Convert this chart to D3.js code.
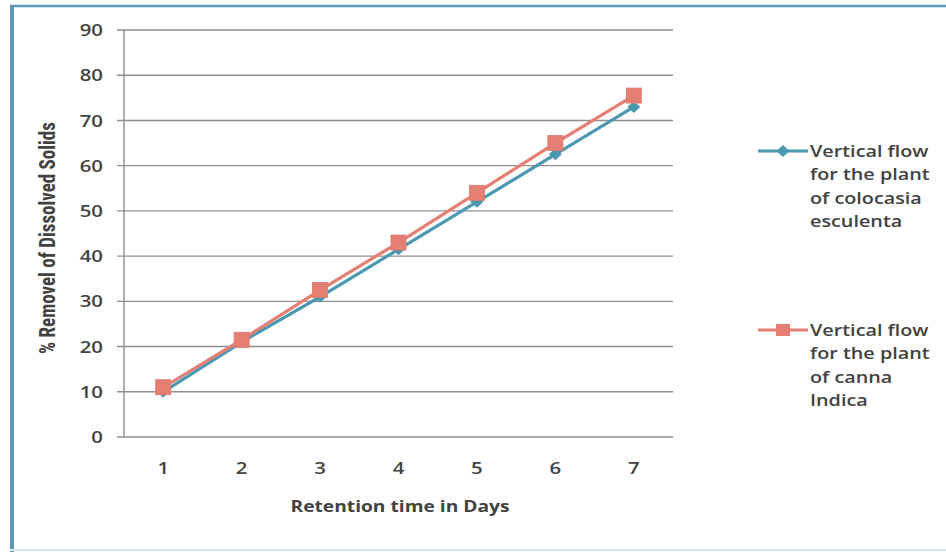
<!DOCTYPE html>
<html><head><meta charset="utf-8">
<script src="https://cdn.jsdelivr.net/npm/d3@7/dist/d3.min.js"></script>
<style>body{margin:0;background:#fff}svg{display:block}</style>
</head><body>
<script>
const categories = ["1","2","3","4","5","6","7"];
const colocasia = [10, 21, 31, 41.5, 52, 62.5, 73];
const canna = [11, 21.5, 32.5, 43, 54, 65, 75.5];
const yTicks = [0,10,20,30,40,50,60,70,80,90];
const seriesNames = [
  ["Vertical flow","for the plant","of colocasia","esculenta"],
  ["Vertical flow","for the plant","of canna","Indica"]
];
const W = 946, H = 552;
const SX = 1.2; // horizontal stretch of the reference typography
const svg = d3.select("body").append("svg").attr("width", W).attr("height", H);
svg.append("rect").attr("width", W).attr("height", H).attr("fill", "#fff");
// frame
svg.append("line").attr("x1",10).attr("x2",W).attr("y1",6).attr("y2",6).attr("stroke","#5e9db8").attr("stroke-width",2.5);
svg.append("line").attr("x1",12).attr("x2",12).attr("y1",5).attr("y2",H).attr("stroke","#5a98b3").attr("stroke-width",4);
svg.append("line").attr("x1",10).attr("x2",W).attr("y1",550).attr("y2",550).attr("stroke","#d6e6ee").attr("stroke-width",2);

const x = d3.scaleBand().domain(categories).range([124, 673]);
const y = d3.scaleLinear().domain([0, 90]).range([437, 30]);
const textColor = "#424242";
const font = "'Open Sans', sans-serif";

// gridlines
svg.append("g").selectAll("line").data(yTicks).join("line")
  .attr("x1", 117).attr("x2", 673)
  .attr("y1", d => y(d)).attr("y2", d => y(d))
  .attr("stroke", "#8f8f8f").attr("stroke-width", 1.4);
// y axis line
svg.append("line").attr("x1",124).attr("x2",124).attr("y1",y(90)).attr("y2",y(0)).attr("stroke","#8f8f8f").attr("stroke-width",1.4);

function stretched(g, px, py) {
  return g.append("g").attr("transform", `translate(${px},${py}) scale(${SX},1)`).append("text");
}
// y tick labels
yTicks.forEach(d => {
  stretched(svg, 103, y(d)).attr("dy","0.36em").attr("text-anchor","end")
    .attr("font-family",font).attr("font-weight",600).attr("font-size",17)
    .attr("fill", textColor).text(d);
});
// x tick labels
categories.forEach(d => {
  stretched(svg, x(d) + x.bandwidth()/2, 468).attr("dy","0.36em").attr("text-anchor","middle")
    .attr("font-family",font).attr("font-weight",600).attr("font-size",17)
    .attr("fill", textColor).text(d);
});

// axis titles
stretched(svg, 400, 506).attr("dy","0.36em").attr("text-anchor","middle")
  .attr("font-family",font).attr("font-weight","bold").attr("font-size",16).attr("fill", textColor)
  .text("Retention time in Days");
svg.append("text").attr("transform","translate(47,238) rotate(-90) scale(1,1.15)").attr("dy","0.35em").attr("text-anchor","middle")
  .attr("font-family","'Liberation Sans Narrow', 'Roboto Condensed', 'DejaVu Sans Condensed', sans-serif")
  .attr("font-stretch","condensed")
  .attr("font-weight","bold").attr("font-size",19).attr("fill", textColor)
  .text("% Removel of Dissolved Solids");

const diamond = "M0,-6L6.5,0L0,6L-6.5,0Z";
const line = d3.line().x((d,i) => x(categories[i]) + x.bandwidth()/2).y(d => y(d));
const blue = "#4b98b2", red = "#e57f73";
svg.append("path").datum(colocasia).attr("d", line).attr("fill","none").attr("stroke",blue).attr("stroke-width",3.2);
svg.append("g").selectAll("path").data(colocasia).join("path")
  .attr("transform",(d,i)=>`translate(${x(categories[i]) + x.bandwidth()/2},${y(d)})`)
  .attr("d", diamond).attr("fill", blue);
svg.append("path").datum(canna).attr("d", line).attr("fill","none").attr("stroke",red).attr("stroke-width",3.2);
svg.append("g").selectAll("rect").data(canna).join("rect")
  .attr("x",(d,i)=>x(categories[i]) + x.bandwidth()/2 - 7.5).attr("y", d => y(d) - 7.5)
  .attr("width",15).attr("height",15).attr("fill", red).attr("stroke","#d9786d").attr("stroke-width",0.8);

// legend
const legY = [151, 330];
const leg = svg.append("g");
[0,1].forEach(i => {
  const c = i === 0 ? blue : red;
  leg.append("line").attr("x1",758).attr("x2",808).attr("y1",legY[i]).attr("y2",legY[i]).attr("stroke",c).attr("stroke-width",3);
  if (i === 0) leg.append("path").attr("transform",`translate(783,${legY[i]})`).attr("d", diamond).attr("fill", c);
  else leg.append("rect").attr("x",776).attr("y",legY[i]-6).attr("width",14).attr("height",12).attr("fill",c);
  const t = stretched(leg, 810, legY[i])
    .attr("font-family",font).attr("font-weight",600).attr("font-size",16.5).attr("fill", textColor);
  seriesNames[i].forEach((s, k) => t.append("tspan").attr("x", 0).attr("y", k * 23.3).attr("dy", "0.36em").text(s));
});
</script>
</body></html>
